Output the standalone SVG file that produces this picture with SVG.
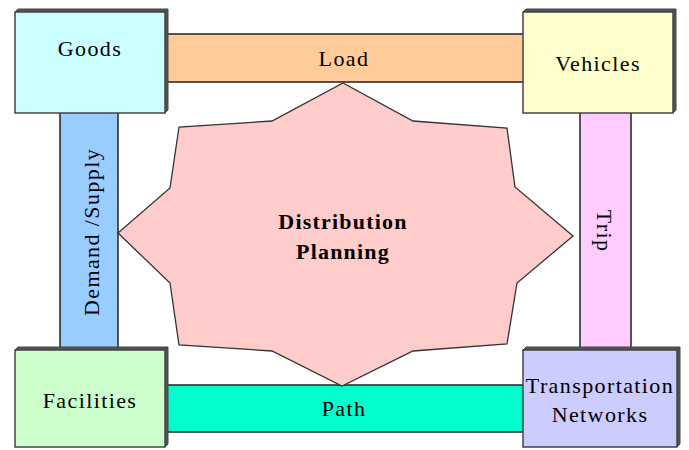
<svg xmlns="http://www.w3.org/2000/svg" width="689" height="450" viewBox="0 0 689 450">
<style>
text{font-family:"Liberation Serif","Times New Roman",serif;font-size:22px;fill:#000;text-anchor:middle;letter-spacing:1.4px}
.bar{stroke:#222;stroke-width:1.5}
.face{stroke:#444;stroke-width:1.5}
.side{fill:#555;stroke:#444;stroke-width:1}
.bold{font-weight:bold;letter-spacing:1.2px}
</style>
<rect width="689" height="450" fill="#fff"/>
<g id="connectors">
<g id="load"><rect class="bar" x="163" y="34" width="362" height="48" fill="#FFCC99"/><text x="344" y="66">Load</text></g>
<g id="path"><rect class="bar" x="163" y="385" width="362" height="47" fill="#00FFCC"/><text x="344" y="416">Path</text></g>
<g id="demand"><rect class="bar" x="60" y="111" width="58" height="240" fill="#99CCFF"/><text transform="translate(99,232) rotate(-90)">Demand /Supply</text></g>
<g id="trip"><rect class="bar" x="580" y="111" width="51" height="239" fill="#FFCCFF"/><text transform="translate(597,231) rotate(90)">Trip</text></g>
</g>
<g id="planning">
<polygon points="343,83 413,121 507,128 515,187 573,236 517,283 507,344 413,351 342,386 272,351 179,345 170,283 118,233 170,188 179,127 272,121" fill="#FFCCCC" stroke="#333" stroke-width="1.3"/>
<text class="bold" x="343" y="229">Distribution</text>
<text class="bold" x="343" y="259">Planning</text>
</g>
<g id="goods">
<polygon class="side" points="15,12 18,9 168,9 165,12"/>
<polygon class="side" points="165,12 168,9 168,110 165,113"/>
<rect class="face" x="15" y="12" width="150" height="101" fill="#CCFFFF"/>
<text x="90" y="56">Goods</text>
</g>
<g id="vehicles">
<polygon class="side" points="523,12 526,9 676,9 673,12"/>
<polygon class="side" points="673,12 676,9 676,110 673,113"/>
<rect class="face" x="523" y="12" width="150" height="101" fill="#FFFFCC"/>
<text x="598" y="71">Vehicles</text>
</g>
<g id="facilities">
<polygon class="side" points="15,350 18,347 168,347 165,350"/>
<polygon class="side" points="165,350 168,347 168,444 165,447"/>
<rect class="face" x="15" y="350" width="150" height="97" fill="#CCFFCC"/>
<text x="90" y="408">Facilities</text>
</g>
<g id="transport">
<polygon class="side" points="523,350 526,347 680,347 677,350"/>
<polygon class="side" points="677,350 680,347 680,444 677,447" fill="#666699"/>
<rect class="face" x="523" y="350" width="154" height="97" fill="#CCCCFF"/>
<text x="600" y="393">Transportation</text>
<text x="600" y="422">Networks</text>
</g>
</svg>
